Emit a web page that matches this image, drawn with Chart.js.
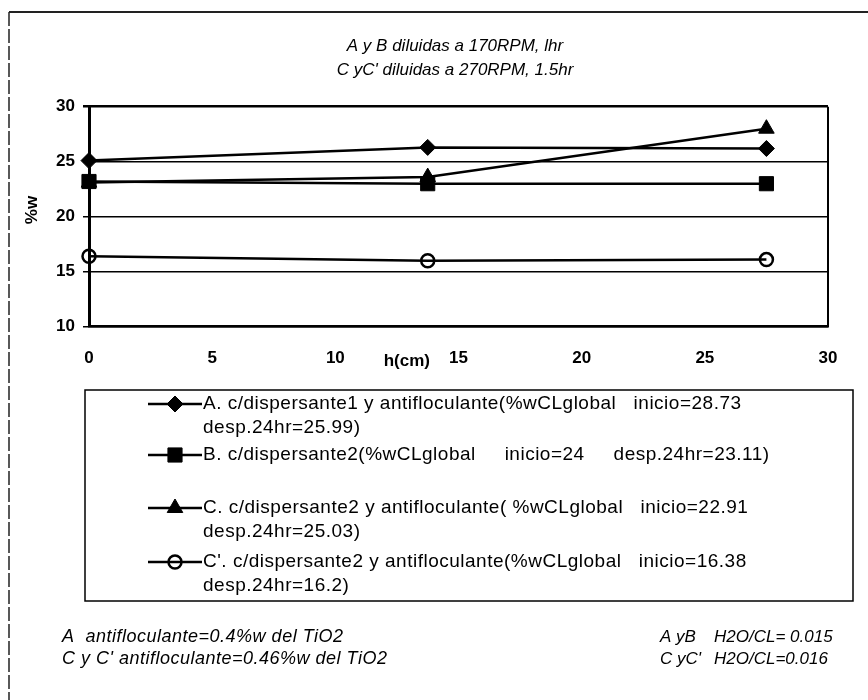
<!DOCTYPE html>
<html>
<head>
<meta charset="utf-8">
<title>%w vs h(cm)</title>
<script src="https://cdn.jsdelivr.net/npm/chart.js@4.4.1/dist/chart.umd.min.js"></script>
<style>
html, body { margin: 0; padding: 0; background: #fff; }
#wrap { position: relative; width: 868px; height: 700px; }
</style>
</head>
<body>
<div id="wrap"><canvas id="line-chart" width="868" height="700"></canvas></div>
<script>
// ======
// datos
// ======
var alturas = [0, 13.75, 27.5];            // h(cm)
var serieA  = [25.1, 26.3, 26.2];
var serieB  = [23.2, 23.0, 23.0];
var serieC  = [23.1, 23.6, 28.0];
var serieC2 = [16.4, 16.0, 16.1];          // C'

var xTicks = [0, 5, 10, 15, 20, 25, 30];
var yTicks = [10, 15, 20, 25, 30];

var titulo = ['A y B diluidas a 170RPM, lhr', "C yC' diluidas a 270RPM, 1.5hr"];
var labelA  = ['A. c/dispersante1 y antifloculante(%wCLglobal   inicio=28.73', 'desp.24hr=25.99)'];
var labelB  = ['B. c/dispersante2(%wCLglobal     inicio=24     desp.24hr=23.11)'];
var labelC  = ['C. c/dispersante2 y antifloculante( %wCLglobal   inicio=22.91', 'desp.24hr=25.03)'];
var labelC2 = ["C'. c/dispersante2 y antifloculante(%wCLglobal   inicio=16.38", 'desp.24hr=16.2)'];
var notasIzq = ['A  antifloculante=0.4%w del TiO2', "C y C' antifloculante=0.46%w del TiO2"];
var notasDer = [['A yB', 'H2O/CL= 0.015'], ["C yC'", 'H2O/CL=0.016']];

var FUENTE = '"Liberation Sans", Arial, sans-serif';

function puntos(ys) {
    return ys.map(function (y, i) { return { x: alturas[i], y: y }; });
}

function serie(label, ys, estilo, radio, relleno) {
    return {
        label: label,
        data: puntos(ys),
        borderColor: '#000',
        borderWidth: 2.5,
        pointStyle: estilo,
        pointRadius: radio,
        pointHoverRadius: radio,
        pointBackgroundColor: relleno,
        pointBorderColor: '#000',
        pointBorderWidth: estilo === 'circle' ? 2.5 : 1,
        fill: false,
        tension: 0,
        clip: false
    };
}

// ======
// textos, leyenda y marco
// ======
var decoracion = {
    id: 'decoracion',
    afterDraw: function (chart) {
        var ctx = chart.ctx;
        ctx.save();

        // marco exterior
        ctx.strokeStyle = '#222';
        ctx.lineWidth = 2;
        ctx.beginPath();
        ctx.moveTo(9, 12); ctx.lineTo(868, 12);
        ctx.stroke();
        ctx.lineWidth = 1.5;
        ctx.setLineDash([14, 3]);
        ctx.beginPath();
        ctx.moveTo(9, 12); ctx.lineTo(9, 700);
        ctx.stroke();
        ctx.setLineDash([]);

        ctx.fillStyle = '#000';
        ctx.textBaseline = 'middle';

        // titulo
        ctx.textAlign = 'center';
        ctx.font = 'italic 17px ' + FUENTE;
        ctx.fillText(titulo[0], 455, 46);
        ctx.fillText(titulo[1], 455, 70);

        // titulos de ejes
        ctx.font = 'bold 17px ' + FUENTE;
        ctx.save();
        ctx.translate(32, 210);
        ctx.rotate(-Math.PI / 2);
        ctx.fillText('%w', 0, 0);
        ctx.restore();
        ctx.fillText('h(cm)', chart.scales.x.getPixelForValue(12.9), 361);

        // leyenda
        ctx.strokeStyle = '#000';
        ctx.lineWidth = 1.5;
        ctx.strokeRect(85, 390, 768, 211);
        var filas = [404, 455, 508, 562];
        ctx.font = '19px ' + FUENTE;
        ctx.letterSpacing = '0.5px';
        ctx.textAlign = 'left';
        chart.data.datasets.forEach(function (ds, i) {
            var y = filas[i];
            ctx.strokeStyle = '#000';
            ctx.lineWidth = 2.5;
            ctx.beginPath();
            ctx.moveTo(148, y); ctx.lineTo(202, y);
            ctx.stroke();
            ctx.fillStyle = ds.pointBackgroundColor;
            ctx.lineWidth = ds.pointBorderWidth;
            Chart.helpers.drawPoint(ctx, {
                pointStyle: ds.pointStyle,
                radius: ds.pointRadius,
                rotation: 0,
                borderWidth: ds.pointBorderWidth
            }, 175, y);
            ctx.fillStyle = '#000';
            ds.label.forEach(function (linea, k) {
                ctx.fillText(linea, 203, y + k * 24);
            });
        });

        // notas inferiores
        ctx.font = 'italic 18px ' + FUENTE;
        notasIzq.forEach(function (t, k) { ctx.fillText(t, 62, 637 + k * 22); });
        ctx.letterSpacing = '0px';
        ctx.font = 'italic 17px ' + FUENTE;
        notasDer.forEach(function (t, k) {
            ctx.fillText(t[0], 660, 637 + k * 22);
            ctx.fillText(t[1], 714, 637 + k * 22);
        });

        ctx.restore();
    }
};

var ctx = document.getElementById('line-chart').getContext('2d');
var chart = new Chart(ctx, {
    type: 'line',
    data: {
        datasets: [
            serie(labelA, serieA, 'rectRot', 8, '#000'),
            serie(labelB, serieB, 'rect', 10, '#000'),
            serie(labelC, serieC, 'triangle', 9, '#000'),
            serie(labelC2, serieC2, 'circle', 6.5, 'rgba(0,0,0,0)')
        ]
    },
    options: {
        responsive: false,
        animation: false,
        layout: { padding: { left: 0, top: 106.7, right: 40, bottom: 333.3 } },
        plugins: {
            legend: { display: false },
            title: { display: false },
            tooltip: { enabled: false }
        },
        scales: {
            x: {
                type: 'linear',
                min: 0,
                max: 30,
                afterFit: function (s) { s.height = 40; },
                afterBuildTicks: function (s) { s.ticks = xTicks.map(function (v) { return { value: v }; }); },
                ticks: { color: '#000', padding: 21, font: { family: FUENTE, size: 17, weight: 'bold' } },
                border: { color: '#000', width: 2.5 },
                grid: {
                    drawTicks: false,
                    color: function (c) { return c.tick && c.tick.value === 30 ? '#000' : 'rgba(0,0,0,0)'; },
                    lineWidth: 2
                }
            },
            y: {
                min: 10,
                max: 30,
                afterFit: function (s) { s.width = 89; },
                afterBuildTicks: function (s) { s.ticks = yTicks.map(function (v) { return { value: v }; }); },
                ticks: { color: '#000', padding: 8, font: { family: FUENTE, size: 17, weight: 'bold' } },
                border: { color: '#000', width: 3 },
                grid: {
                    color: '#000',
                    tickLength: 6,
                    lineWidth: function (c) { return c.tick && c.tick.value === 30 ? 2.5 : 1.5; }
                }
            }
        }
    },
    plugins: [decoracion]
});
</script>
</body>
</html>
